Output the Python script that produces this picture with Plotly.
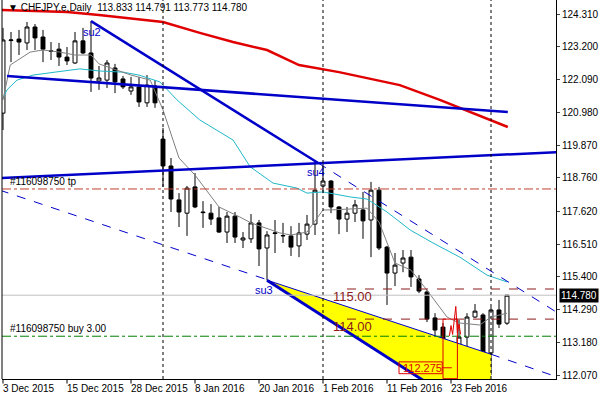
import plotly.graph_objects as go

# daily bars, index 0 = 3 Dec 2015
opens = [120.95, 123.41, 123.46, 123.33, 123.87, 123.53, 123.06, 123.12, 122.85, 122.65,
         123.40, 122.99, 122.04, 122.07, 122.48, 122.11, 121.70, 121.84, 121.30, 121.87,
         120.07, 119.16, 118.01, 117.56, 118.45, 117.60, 117.56, 117.40, 116.92, 117.46,
         116.65, 116.69, 117.23, 116.38, 116.87, 116.79, 116.79, 116.45, 116.85, 117.19,
         118.48, 118.65, 117.77, 117.36, 117.56, 117.67, 117.33, 118.34, 116.41, 115.53,
         115.87, 116.07, 115.33, 114.89, 114.01, 113.70, 112.85, 113.06, 113.36, 114.04,
         114.11, 112.82, 114.28, 113.833]
highs = [123.84, 123.70, 123.77, 124.04, 123.97, 123.77, 123.36, 123.33, 123.19, 123.70,
         123.84, 124.07, 122.55, 122.75, 122.62, 122.21, 122.18, 122.18, 122.24, 122.07,
         120.45, 119.43, 118.24, 118.48, 118.92, 117.97, 117.87, 117.77, 117.60, 117.60,
         116.92, 117.53, 117.33, 116.95, 117.33, 117.23, 117.12, 117.23, 117.50, 119.36,
         119.26, 118.68, 117.80, 117.77, 118.01, 118.28, 118.62, 118.45, 116.45, 116.21,
         116.31, 116.31, 115.46, 114.95, 114.17, 113.84, 113.19, 113.94, 114.17, 114.48,
         114.17, 114.38, 114.62, 114.791]
lows = [120.38, 122.68, 122.92, 123.09, 123.09, 122.68, 122.75, 122.55, 122.58, 122.62,
        122.95, 121.67, 121.74, 121.80, 121.63, 121.77, 121.57, 121.16, 121.16, 121.13,
        118.45, 117.60, 117.09, 116.79, 117.73, 117.06, 117.16, 116.89, 116.55, 116.55,
        116.38, 116.55, 115.77, 115.29, 116.21, 116.55, 116.11, 116.07, 116.65, 116.82,
        118.24, 117.56, 116.85, 116.92, 117.26, 116.69, 116.07, 116.31, 114.45, 115.09,
        115.56, 115.06, 114.85, 113.87, 113.26, 112.82, 112.275, 112.34, 112.99, 114.01,
        112.48, 112.07, 113.67, 113.773]
closes = [123.43, 123.43, 123.36, 123.87, 123.50, 123.12, 123.05, 122.85, 122.72, 123.40,
          122.99, 122.14, 122.14, 122.65, 122.01, 121.84, 121.84, 121.33, 121.90, 121.30,
          119.16, 118.04, 117.60, 118.41, 117.77, 117.58, 117.36, 116.92, 117.46, 116.75,
          116.72, 117.23, 116.35, 116.82, 116.89, 116.80, 116.41, 116.89, 117.19, 118.34,
          118.65, 117.77, 117.36, 117.56, 117.84, 117.30, 118.34, 116.38, 115.53, 115.80,
          116.04, 115.40, 114.92, 113.97, 113.60, 112.95, 113.02, 113.36, 114.04, 114.24,
          112.82, 114.28, 113.80, 114.780]
bars = list(range(len(opens)))

# moving averages (bar index, price)
fast_x = [0, 0.9, 3.4, 5, 7.1, 9, 11, 12, 16, 18.4, 20, 22, 24, 27, 29.6, 31, 34.6, 36, 38,
          40, 41, 45.5, 47, 49, 51, 53, 55.5, 57, 59.6, 61, 63]
fast_y = [121.40, 122.58, 123.02, 123.09, 123.02, 122.92, 122.92, 122.62, 122.24, 122.07,
          121.06, 119.43, 118.85, 117.77, 117.43, 117.23, 116.89, 116.82, 116.92, 117.67,
          117.67, 117.73, 117.26, 115.87, 115.63, 114.95, 114.04, 113.84, 113.77, 114.04, 114.17]
mid_x = [0, 0.5, 1.75, 3.75, 6.5, 9.6, 12, 15, 17, 19.6, 21.75, 24.6, 28.75, 30.9, 33.75,
         36.75, 38, 40, 43.4, 45.5, 48, 50.9, 53.75, 57.1, 60.5, 63]
mid_y = [121.46, 121.74, 122.07, 122.24, 122.34, 122.45, 122.38, 122.34, 122.24, 122.01,
         121.40, 120.72, 120.04, 119.13, 118.58, 118.41, 118.24, 118.28, 118.11, 118.04,
         117.60, 116.99, 116.55, 116.07, 115.46, 115.23]
slow_x = [-0.4, 3.75, 8, 12, 20, 24.6, 28.75, 33, 37, 42, 49.6, 54.6, 58.4, 63.1]
slow_y = [124.45, 124.41, 124.38, 124.28, 124.04, 123.67, 123.36, 123.09, 122.58, 122.34,
          121.90, 121.40, 120.99, 120.48]

# trend lines: (x0, y0, x1, y1, width, dash)
trend_lines = [
    (11, 124.07, 39.4, 119.26, 2.5, "solid"),
    (39.4, 119.26, 69.4, 114.17, 1, "dash"),
    (0.5, 122.21, 63.1, 120.99, 2.5, "solid"),
    (-0.4, 118.75, 69.25, 119.63, 2.5, "solid"),
    (-0.4, 118.34, 32.75, 115.33, 1, "dash"),
    (33, 115.29, 52.5, 111.90, 3, "solid"),
    (33, 115.29, 61, 112.78, 1, "solid"),
    (61, 112.78, 69.25, 112.01, 1, "dash"),
]
tri_x = [33, 61, 61, 52.3, 33]
tri_y = [115.29, 112.78, 111.94, 111.94, 115.29]

tick_prices = [124.310, 123.200, 122.090, 120.980, 119.870, 118.760, 117.620, 116.510,
               115.400, 114.290, 113.180, 112.070]
date_bars = [0, 8, 16, 24, 32, 40, 48, 56]
date_labels = ["3 Dec 2015", "15 Dec 2015", "28 Dec 2015", "8 Jan 2016", "20 Jan 2016",
               "1 Feb 2016", "11 Feb 2016", "23 Feb 2016"]
session_bars = [20, 40, 61]

tp_level = 118.38
buy_level = 113.39
level_115 = 114.99
level_114 = 113.97
last_price = 114.780

font = "Liberation Sans"
fig = go.Figure()

fig.add_trace(go.Scatter(x=tri_x, y=tri_y, fill="toself", fillcolor="#ffff00",
                         line=dict(width=0), mode="lines", hoverinfo="skip"))
fig.add_trace(go.Scatter(x=slow_x, y=slow_y, mode="lines", line=dict(color="#e00000", width=2.5)))
fig.add_trace(go.Scatter(x=mid_x, y=mid_y, mode="lines", line=dict(color="#20b8c8", width=1)))
fig.add_trace(go.Scatter(x=fast_x, y=fast_y, mode="lines", line=dict(color="#808080", width=1)))

fig.add_trace(go.Candlestick(
    x=bars, open=opens, high=highs, low=lows, close=closes,
    increasing=dict(fillcolor="white", line=dict(color="black", width=1)),
    decreasing=dict(fillcolor="black", line=dict(color="black", width=1)),
    whiskerwidth=0))

# small hand-drawn red mark
fig.add_trace(go.Scatter(x=[55.8, 56.0, 56.2, 56.4, 56.6, 56.8, 57.0, 57.2],
                         y=[113.40, 113.75, 113.45, 113.90, 114.40, 113.50, 113.80, 113.45],
                         mode="lines", line=dict(color="#e00000", width=1)))

shapes = []
for x0, y0, x1, y1, w, d in trend_lines:
    shapes.append(dict(type="line", x0=x0, y0=y0, x1=x1, y1=y1, xref="x", yref="y",
                       line=dict(color="#0000c8", width=w, dash=d)))
for b in session_bars:
    shapes.append(dict(type="line", x0=b, x1=b, y0=0, y1=1, xref="x", yref="paper",
                       line=dict(color="black", width=1, dash="dot")))
shapes += [
    dict(type="line", x0=0, x1=1, y0=last_price, y1=last_price, xref="paper", yref="y",
         line=dict(color="#c0c0c0", width=1)),
    dict(type="line", x0=0, x1=1, y0=tp_level, y1=tp_level, xref="paper", yref="y",
         line=dict(color="#c04030", width=1, dash="dashdot")),
    dict(type="line", x0=0, x1=1, y0=buy_level, y1=buy_level, xref="paper", yref="y",
         line=dict(color="#008000", width=1, dash="dashdot")),
    dict(type="line", x0=43, x1=69.2, y0=level_115, y1=level_115, xref="x", yref="y",
         line=dict(color="#8b1a1a", width=1, dash="dash")),
    dict(type="line", x0=43, x1=69.2, y0=level_114, y1=level_114, xref="x", yref="y",
         line=dict(color="#8b1a1a", width=1, dash="dash")),
    dict(type="rect", x0=55, x1=56.8, y0=111.95, y1=113.97, xref="x", yref="y",
         line=dict(color="#e00000", width=1)),
    dict(type="rect", x0=49.5, x1=54.9, y0=112.12, y1=112.52, xref="x", yref="y",
         line=dict(color="#e00000", width=1)),
    dict(type="line", x0=54.9, x1=56.1, y0=112.32, y1=112.32, xref="x", yref="y",
         line=dict(color="#e00000", width=1)),
    dict(type="line", x0=0, x1=0, y0=0, y1=1, xref="paper", yref="paper",
         line=dict(color="black", width=1)),
]

ann = [
    dict(x=0.008, y=1, xref="paper", yref="paper", xanchor="left", yanchor="top",
         text="▼ CHFJPY.e,Daily  113.833 114.791 113.773 114.780", showarrow=False,
         font=dict(size=10, color="black")),
    dict(x=9.8, y=123.70, text="su2", showarrow=False, xanchor="left",
         font=dict(size=11, color="#0000c8")),
    dict(x=37.8, y=118.95, text="su4", showarrow=False, xanchor="left",
         font=dict(size=11, color="#0000c8")),
    dict(x=31.3, y=114.95, text="su3", showarrow=False, xanchor="left",
         font=dict(size=11, color="#0000c8")),
    dict(x=41, y=114.75, text="115.00", showarrow=False, xanchor="left",
         font=dict(size=13, color="#8b1a1a")),
    dict(x=41, y=113.73, text="114.00", showarrow=False, xanchor="left",
         font=dict(size=13, color="#8b1a1a")),
    dict(x=49.7, y=112.32, text="112.275", showarrow=False, xanchor="left",
         font=dict(size=11, color="#e00000")),
    dict(x=0.01, y=tp_level, xref="paper", text="#116098750 tp", showarrow=False,
         xanchor="left", yanchor="bottom", font=dict(size=10, color="black")),
    dict(x=0.01, y=buy_level, xref="paper", text="#116098750 buy 3.00", showarrow=False,
         xanchor="left", yanchor="bottom", font=dict(size=10, color="black")),
    dict(x=1, y=last_price, xref="paper", text="114.780", showarrow=False, xanchor="left",
         xshift=3, bgcolor="black", font=dict(size=10, color="white")),
]
for b, lab in zip(date_bars, date_labels):
    ann.append(dict(x=b, y=0, yref="paper", text=lab, showarrow=False, xanchor="left",
                    yanchor="top", xshift=-2, yshift=-2, font=dict(size=10, color="black")))
    shapes.append(dict(type="line", x0=b, x1=b, y0=0, y1=-0.012, xref="x", yref="paper",
                       line=dict(color="black", width=1)))

fig.update_layout(
    width=600, height=400, showlegend=False,
    paper_bgcolor="white", plot_bgcolor="white",
    margin=dict(l=2, r=44, t=0, b=21),
    font=dict(family=font, size=10, color="black"),
    shapes=shapes, annotations=ann,
    xaxis=dict(range=[-0.125, 69.125], showticklabels=False, showgrid=False, zeroline=False,
               rangeslider=dict(visible=False), showline=True, linecolor="black", ticks=""),
    yaxis=dict(range=[111.94, 124.785], side="right", tickvals=tick_prices,
               ticktext=[f"{v:.3f}" for v in tick_prices], showgrid=False, zeroline=False,
               showline=True, linecolor="black", ticks="outside", ticklen=3,
               tickfont=dict(size=10)),
)

fig.write_html("out.html", config={"displayModeBar": False},
               post_script="document.body.style.margin='0';")
